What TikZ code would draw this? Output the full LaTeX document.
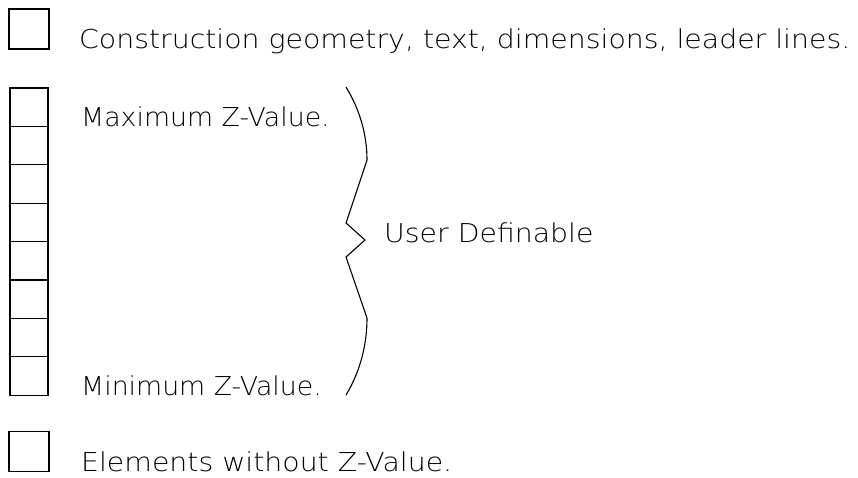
\documentclass[tikz,border=0pt]{standalone}
\usepackage{fontspec}
\newfontfamily\cadfont[FakeStretch=1.09]{DejaVu Sans ExtraLight}
\newfontfamily\cadfontn[FakeStretch=1.03]{DejaVu Sans ExtraLight}
\begin{document}
\begin{tikzpicture}[x=1pt,y=-1pt,
  box/.style={draw,line width=1.3pt,minimum width=40pt,minimum height=40pt,inner sep=0pt,outer sep=0pt},
  cell/.style={draw,line width=1.3pt,minimum width=38pt,minimum height=38.4pt,inner sep=0pt,outer sep=0pt},
  lbl/.style={anchor=base west,inner sep=0pt,font=\cadfont\fontsize{26}{30}\selectfont},
  lbln/.style={lbl,font=\cadfontn\fontsize{26}{30}\selectfont},
  bracestyle/.style={draw,line width=1.1pt,line join=round}]
\useasboundingbox (0,0) rectangle (858,477);
\node[box] (top) at (29,29) {};
\foreach \i in {1,...,8}{
  \node[cell] (c\i) at (29,{88+38.4*(\i-0.5)}) {};
}
\node[box] (bot) at (29,451.5) {};
\node[lbl] (t1) at (79,48) {Construction geometry, text, dimensions, leader lines.};
\node[lbln] (tmax) at (81,126) {Maximum Z-Value.};
\node[lbln] (tmin) at (81,395) {Minimum Z-Value.};
\node[lbl] (tel) at (81,471) {Elements without Z-Value.};
\node[lbl] (tud) at (384,242) {User Definable};
\path[bracestyle] (346,87) .. controls (360,110) and (367,135) .. (367,160)
  -- (346,223) -- (365,240) -- (346,257) -- (367,318)
  .. controls (367,345) and (360,372) .. (346,395);
\end{tikzpicture}
\end{document}
